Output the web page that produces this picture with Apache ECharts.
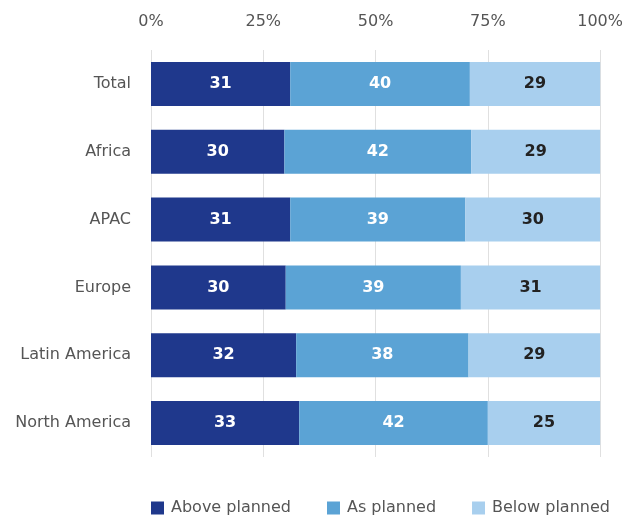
<!DOCTYPE html>
<html>
<head>
<meta charset="utf-8">
<script src="https://cdn.jsdelivr.net/npm/echarts@6/dist/echarts.min.js"></script>
<style>
  html, body { margin: 0; padding: 0; background: #fff; }
  #chart { width: 626px; height: 523px; }
</style>
</head>
<body>
<div id="chart"></div>
<script>
// Regions, top to bottom
const regions = ['Total', 'Africa', 'APAC', 'Europe', 'Latin America', 'North America'];
// Shares reported per region (rows may not sum exactly to 100 due to rounding)
const abovePlanned = [31, 30, 31, 30, 32, 33];
const asPlanned    = [40, 42, 39, 39, 38, 42];
const belowPlanned = [29, 29, 30, 31, 29, 25];
const seriesNames = ['Above planned', 'As planned', 'Below planned'];
const tickLabels = ['0%', '25%', '50%', '75%', '100%'];

const rows = [abovePlanned, asPlanned, belowPlanned];
const totals = regions.map((_, i) => rows.reduce((s, r) => s + r[i], 0));
const colors = ['#1f388c', '#5ba3d5', '#a8cfee'];
const labelColors = ['#ffffff', '#ffffff', '#222222'];
const font = '"DejaVu Sans", sans-serif';

const chart = echarts.init(document.getElementById('chart'));
chart.setOption({
  animation: false,
  textStyle: { fontFamily: font },
  grid: { left: 151, right: 25, top: 50, bottom: 66, containLabel: false },
  xAxis: {
    type: 'value', position: 'top', min: 0, max: 100, interval: 25,
    axisLine: { show: false }, axisTick: { show: false },
    splitLine: { show: true, lineStyle: { color: '#e0e0e0', width: 1 } },
    axisLabel: {
      color: '#555', fontSize: 16, margin: 20, fontFamily: font,
      formatter: v => tickLabels[Math.round(v / 25)]
    }
  },
  yAxis: {
    type: 'category', inverse: true, data: regions,
    axisLine: { show: false }, axisTick: { show: false },
    axisLabel: { color: '#555', fontSize: 16, margin: 20, fontFamily: font }
  },
  legend: {
    top: 500, left: 151, itemWidth: 13, itemHeight: 13, itemGap: 36,
    icon: 'rect', padding: 0,
    textStyle: { color: '#555', fontSize: 16, fontFamily: font, padding: [0, 0, 0, 2] },
    data: seriesNames
  },
  series: rows.map((vals, k) => ({
    name: seriesNames[k],
    type: 'bar',
    stack: 'share',
    barWidth: 44,
    itemStyle: { color: colors[k] },
    label: {
      show: true, position: 'inside', color: labelColors[k],
      fontSize: 16, fontWeight: 'bold', fontFamily: font,
      formatter: p => vals[p.dataIndex]
    },
    data: vals.map((v, i) => v / totals[i] * 100)
  }))
});
</script>
</body>
</html>
